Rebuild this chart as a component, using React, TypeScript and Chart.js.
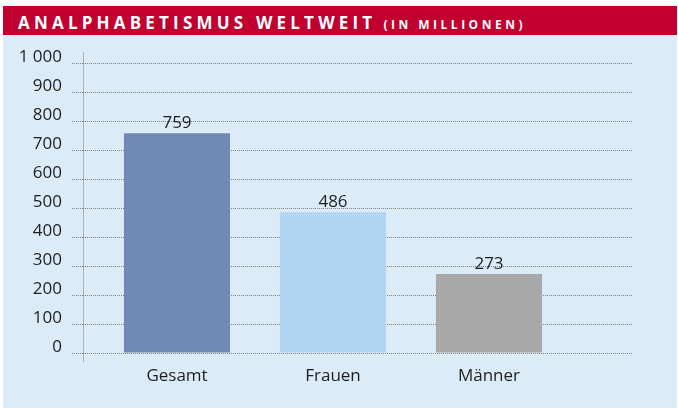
import React, { useEffect, useRef } from "react";
import { Chart, registerables } from "chart.js";

Chart.register(...registerables);

const categories = ["Gesamt", "Frauen", "Männer"];
const values = [759, 486, 273];
const barColors = ["#7189b6", "#b1d4f2", "#a9a9a9"];
const yTicks = [0, 100, 200, 300, 400, 500, 600, 700, 800, 900, 1000];

const FONT = "'Open Sans', 'Noto Sans', sans-serif";

const valueLabels = {
  id: "valueLabels",
  afterDatasetsDraw(chart: any) {
    const ctx = chart.ctx;
    const meta = chart.getDatasetMeta(0);
    ctx.save();
    ctx.font = `17px ${FONT}`;
    ctx.fillStyle = "#1e1e1e";
    ctx.textAlign = "center";
    ctx.textBaseline = "alphabetic";
    meta.data.forEach((bar: any, i: number) => {
      ctx.fillText(String(values[i]), bar.x, bar.y - 5);
    });
    ctx.restore();
  },
};

const axisLine = {
  id: "axisLine",
  afterDraw(chart: any) {
    const { ctx, chartArea } = chart;
    const x = Math.round(chartArea.left) + 0.5;
    ctx.save();
    ctx.strokeStyle = "#7d7d7d";
    ctx.lineWidth = 1;
    ctx.setLineDash([1, 1]);
    ctx.beginPath();
    ctx.moveTo(x, chartArea.top - 11);
    ctx.lineTo(x, chartArea.bottom + 9);
    ctx.stroke();
    ctx.restore();
  },
};

export default function App() {
  const ref = useRef<HTMLCanvasElement>(null);

  useEffect(() => {
    document.body.style.margin = "0";
    const chart = new Chart(ref.current!, {
      type: "bar",
      data: {
        datasets: [
          {
            data: values.map((v, i) => ({ x: i, y: v })),
            backgroundColor: barColors,
            borderWidth: 0,
            barPercentage: 0.68,
            categoryPercentage: 1,
          },
        ],
      },
      options: {
        responsive: false,
        animation: false,
        layout: { padding: { top: 28.5, right: 45, bottom: 0, left: 0 } },
        plugins: {
          legend: { display: false },
          tooltip: { enabled: false },
          title: { display: false },
        },
        scales: {
          x: {
            type: "linear",
            offset: false,
            min: -0.6026,
            max: 2.9167,
            grid: { display: false, offset: false },
            border: { display: false },
            ticks: {
              stepSize: 1,
              autoSkip: false,
              includeBounds: false,
              maxRotation: 0,
              padding: 5,
              color: "#1e1e1e",
              font: { family: FONT, size: 17 },
              callback: (v: any) => categories[v] ?? "",
            },
            afterFit: (s: any) => {
              s.height = 55;
            },
          },
          y: {
            min: 0,
            max: 1000,
            afterBuildTicks: (s: any) => {
              s.ticks = yTicks.map((v) => ({ value: v }));
            },
            grid: {
              color: "#808080",
              lineWidth: 1,
              drawTicks: true,
              tickLength: 11,
              tickBorderDash: [1, 1],
              tickColor: "#808080",
            },
            border: { display: false, dash: [1, 1] },
            ticks: {
              padding: 10,
              labelOffset: -6,
              color: "#1e1e1e",
              font: { family: FONT, size: 17 },
              callback: (v: any) => (v >= 1000 ? "1 000" : String(v)),
            },
            afterFit: (s: any) => {
              s.width = 80;
            },
          },
        },
      } as any,
      plugins: [valueLabels, axisLine],
    });
    (chart.options.scales as any).y.grid.borderDash = [1, 1];
    (chart.options.scales as any).y.border.dash = [1, 1];
    chart.update();
    return () => chart.destroy();
  }, []);

  return (
    <div
      style={{
        position: "absolute",
        left: 0,
        top: 0,
        width: 678,
        height: 409,
        background: "#ffffff",
      }}
    >
      <div
        style={{
          position: "absolute",
          left: 3,
          top: 6,
          width: 674,
          height: 29,
          background: "#c1002f",
          color: "#ffffff",
          fontFamily: FONT,
          fontWeight: 700,
          whiteSpace: "nowrap",
        }}
      >
        <div style={{ position: "absolute", left: 15, top: 2, lineHeight: "29px" }}>
          <span style={{ fontSize: 17, letterSpacing: 4.2 }}>ANALPHABETISMUS WELTWEIT</span>
          <span style={{ fontSize: 12, letterSpacing: 3.5, marginLeft: 7 }}>(IN MILLIONEN)</span>
        </div>
      </div>
      <div
        style={{
          position: "absolute",
          left: 3,
          top: 35,
          width: 674,
          height: 373,
          background: "#dbebf8",
        }}
      >
        <canvas ref={ref} width={674} height={373} style={{ display: "block" }} />
      </div>
    </div>
  );
}
